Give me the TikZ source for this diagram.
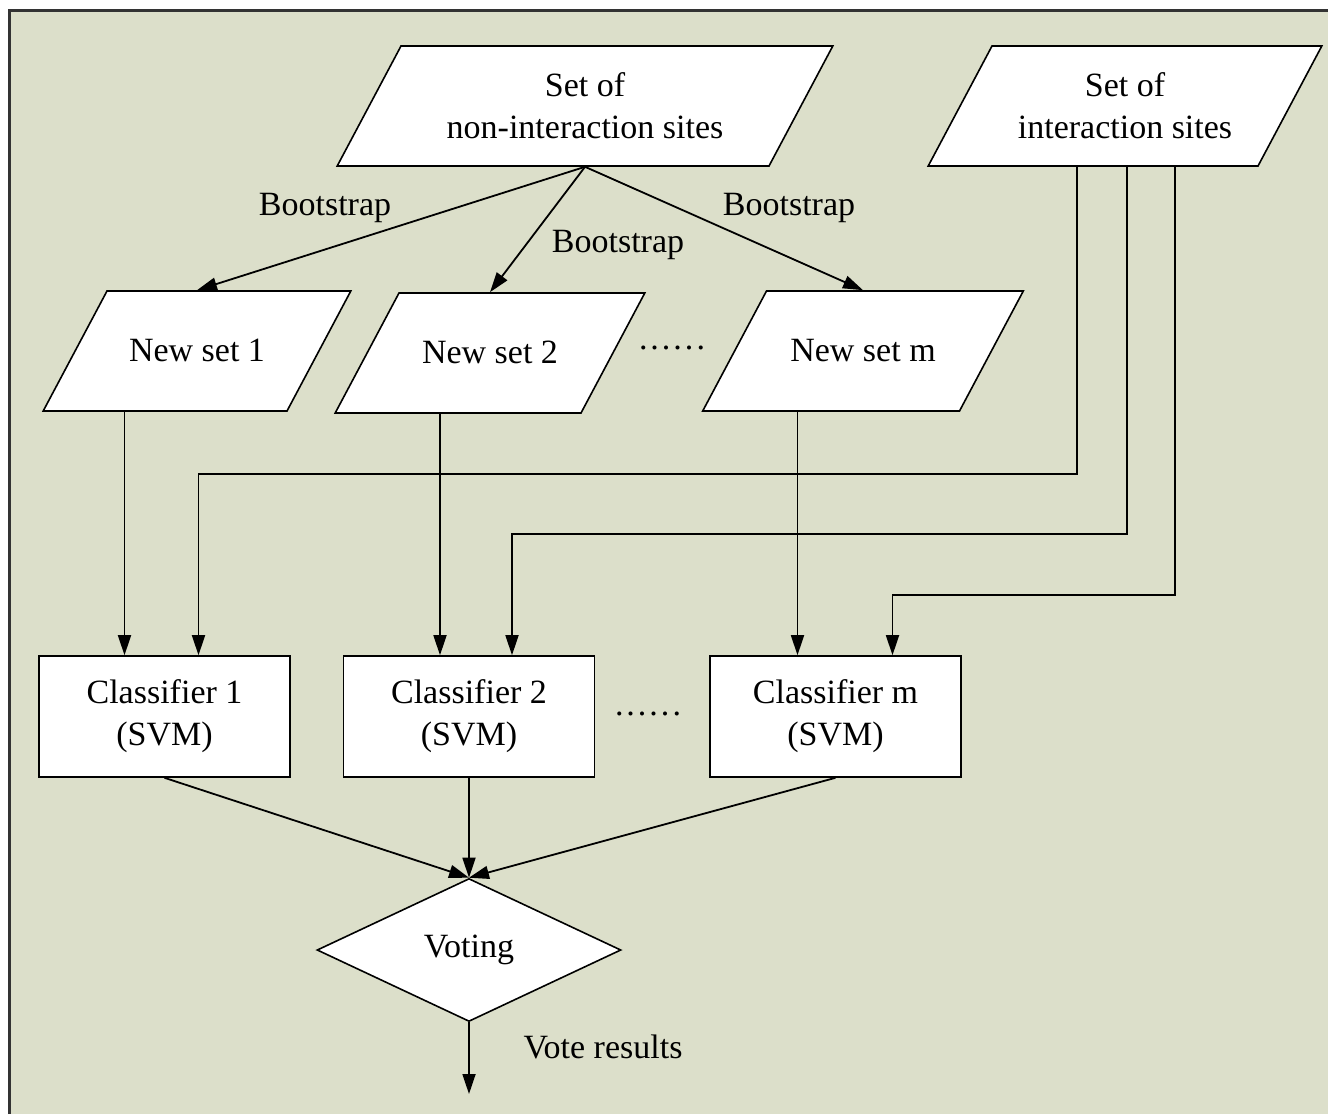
\documentclass[tikz,border=0pt]{standalone}
\usepackage{fontspec}
\setmainfont{Liberation Serif}
\usetikzlibrary{arrows.meta, shapes.geometric, calc}
\definecolor{panelbg}{RGB}{220,223,202}

\begin{document}
\begin{tikzpicture}[
    x=0.5pt, y=-0.5pt,
    every node/.style={font=\fontsize{17}{21}\selectfont},
    dataset/.style={trapezium, draw, line width=0.8pt, fill=white,
                    trapezium left angle=62, trapezium right angle=118,
                    inner xsep=0pt, inner ysep=22pt,
                    text height=13pt, text depth=3pt, align=flush center},
    twoline/.style={inner ysep=11.5pt, text height=13.5pt, text depth=23.5pt},
    classifier/.style={rectangle, draw, line width=0.8pt, fill=white,
                       minimum width=125.5pt, minimum height=60.5pt, align=center},
    vote/.style={diamond, draw, line width=0.8pt, fill=white, aspect=2.1,
                 minimum width=152pt, minimum height=71.5pt, inner sep=0pt},
    arrow/.style={-{Triangle[length=10pt,width=6.5pt]}, line width=0.9pt}
]

% Frame
\useasboundingbox (0,0) rectangle (1328,1114);
\fill[panelbg] (9,10) rectangle (1328,1114);
\draw[line width=1.5pt, black!80] (9,1114) -- (9,10) -- (1328,10);

% Input sets
\node[dataset, twoline, text width=184pt] (nonint) at (585,106) {Set of\\non-interaction sites};
\node[dataset, twoline, text width=133pt] (inter) at (1125,106) {Set of\\interaction sites};

% Bootstrap samples
\node[dataset, text width=90pt] (ns1) at (197,351) {New set 1};
\node[dataset, text width=91pt] (ns2) at (490,353) {New set 2};
\node[dataset, text width=96.5pt] (nsm) at (863,351) {New set m};
\node (dotsa) at (672,348) {.\kern1.5pt.\kern1.5pt.\kern1.5pt.\kern1.5pt.\kern1.5pt.};

\node (bs1) at (325,208) {Bootstrap};
\node (bs2) at (618,245) {Bootstrap};
\node (bsm) at (789,208) {Bootstrap};

\draw[arrow] (nonint.south) -- (ns1.north);
\draw[arrow] (nonint.south) -- (ns2.north);
\draw[arrow] (nonint.south) -- (nsm.north);

% Classifiers
\node[classifier] (c1) at (164.5,716.5) {Classifier 1\\(SVM)};
\node[classifier] (c2) at (469,716.5) {Classifier 2\\(SVM)};
\node[classifier] (cm) at (835.5,716.5) {Classifier m\\(SVM)};
\node (dotsb) at (648,714) {.\kern1.5pt.\kern1.5pt.\kern1.5pt.\kern1.5pt.\kern1.5pt.};

\coordinate (c1a) at ($(c1.north)+(-40,0)$);
\coordinate (c2a) at ($(c2.north)+(-29,0)$);
\coordinate (cma) at ($(cm.north)+(-38,0)$);
\coordinate (c1b) at ($(c1.north)+(34,0)$);
\coordinate (c2b) at ($(c2.north)+(43,0)$);
\coordinate (cmb) at ($(cm.north)+(57,0)$);

\draw[arrow] (ns1.south -| c1a) -- (c1a);
\draw[arrow] (ns2.south -| c2a) -- (c2a);
\draw[arrow] (nsm.south -| cma) -- (cma);

\draw[arrow] ($(inter.south)+(-48,0)$) -- ++(0,307) -| (c1b);
\draw[arrow] ($(inter.south)+(2,0)$) -- ++(0,367) -| (c2b);
\draw[arrow] ($(inter.south)+(50,0)$) -- ++(0,428) -| (cmb);

% Voting
\node[vote] (voting) at (469,950) {Voting};
\draw[arrow] (c1.south) -- (voting.north);
\draw[arrow] (c2.south) -- (voting.north);
\draw[arrow] (cm.south) -- (voting.north);

\coordinate (out) at (469,1094);
\draw[arrow] (voting.south) -- (out);
\node (result) at (603,1047) {Vote results};

\end{tikzpicture}
\end{document}
